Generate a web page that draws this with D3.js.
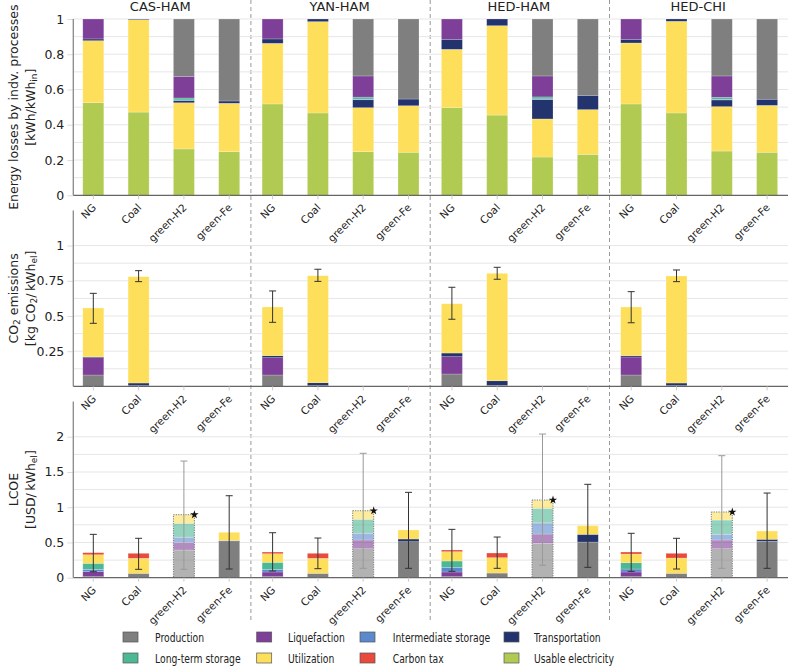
<!DOCTYPE html>
<html>
<head>
<meta charset="utf-8">
<script src="https://d3js.org/d3.v7.min.js"></script>
<style>
  body { margin: 0; background: #fff; }
  text { font-family: "DejaVu Sans", sans-serif; fill: #222; }
</style>
</head>
<body>
<script>
// categories
const regions = ["CAS-HAM", "YAN-HAM", "HED-HAM", "HED-CHI"];
const techs = ["NG", "Coal", "green-H2", "green-Fe"];

// energy losses [kWh/kWh_in], 16 bars: region-major, tech-minor
const energyUsable = [.525, .472, .263, .247, .518, .467, .247, .244, .497, .455, .217, .232, .518, .467, .251, .244];
const energyUtil   = [.352, .524, .262, .275, .344, .518, .250, .264, .331, .507, .216, .254, .346, .520, .252, .266];
const energyTransp = [.010, .004, .012, .013, .025, .015, .045, .038, .057, .038, .110, .081, .021, .013, .038, .035];
const energyInter  = [0, 0, .004, 0, 0, 0, .004, 0, 0, 0, .004, 0, 0, 0, .004, 0];
const energyLong   = [0, 0, .011, 0, 0, 0, .011, 0, 0, 0, .011, 0, 0, 0, .011, 0];
const energyLiq    = [.113, 0, .123, 0, .113, 0, .120, 0, .115, 0, .119, 0, .115, 0, .121, 0];
const energyProd   = [0, 0, .325, .465, 0, 0, .323, .454, 0, 0, .323, .433, 0, 0, .323, .455];

// CO2 emissions [kg CO2/kWh_el]
const co2Prod   = [.081, .006, 0, 0, .081, .006, 0, 0, .088, .008, 0, 0, .081, .006, 0, 0];
const co2Liq    = [.123, 0, 0, 0, .123, 0, 0, 0, .123, 0, 0, 0, .128, 0, 0, 0];
const co2Transp = [.006, .018, 0, 0, .014, .020, 0, 0, .026, .032, 0, 0, .009, .018, 0, 0];
const co2Util   = [.347, .755, 0, 0, .346, .760, 0, 0, .350, .763, 0, 0, .346, .760, 0, 0];
const co2Low    = [.448, .744, null, null, .455, .746, null, null, .477, .761, null, null, .452, .744, null, null];
const co2High   = [.661, .822, null, null, .678, .832, null, null, .704, .846, null, null, .673, .827, null, null];

// LCOE [USD/kWh_el]
const lcoeProd   = [.015, .062, .393, .511, .015, .062, .411, .511, .015, .066, .488, .506, .015, .062, .411, .516];
const lcoeLiq    = [.070, 0, .109, 0, .066, 0, .124, 0, .066, 0, .132, 0, .066, 0, .124, 0];
const lcoeInter  = [.034, 0, .071, 0, .038, 0, .094, 0, .066, 0, .151, 0, .042, 0, .080, 0];
const lcoeTransp = [0, 0, .003, .014, 0, 0, .003, .038, 0, 0, .009, .109, 0, 0, .003, .029];
const lcoeLong   = [.085, 0, .195, 0, .099, 0, .196, 0, .090, 0, .204, 0, .090, 0, .200, 0];
const lcoeUtil   = [.122, .213, .123, .119, .122, .213, .122, .128, .132, .218, .118, .123, .123, .217, .114, .117];
const lcoeTax    = [.029, .071, 0, 0, .024, .071, 0, 0, .024, .066, 0, 0, .028, .067, 0, 0];
const lcoeLow    = [.085, .119, .119, .123, .095, .128, .133, .133, .090, .133, .176, .147, .090, .123, .133, .133];
const lcoeHigh   = [.615, .559, 1.655, 1.163, .638, .563, 1.765, 1.211, .686, .577, 2.038, 1.325, .630, .559, 1.731, 1.201];

const colors = {
  "Production": "#7f7f7f",
  "Liquefaction": "#7e3f98",
  "Intermediate storage": "#5b89cb",
  "Transportation": "#23336e",
  "Long-term storage": "#4db895",
  "Utilization": "#fedf5b",
  "Carbon tax": "#e84b3c",
  "Usable electricity": "#b1cb52"
};
const legendOrder = ["Production", "Liquefaction", "Intermediate storage", "Transportation",
                     "Long-term storage", "Utilization", "Carbon tax", "Usable electricity"];

const W = 788, H = 671;
const left = 73.3, right = 788;
const svg = d3.select("body").append("svg").attr("width", W).attr("height", H);

const xGroup = d3.scaleBand().domain(regions).range([left, left + 4 * 179.3]);
const xCat = d3.scalePoint().domain(techs).range([20, 20 + 3 * 45.3]);
const bw = 21;
const bars = [];
regions.forEach(r => techs.forEach(t => bars.push({ region: r, tech: t })));
const cx = d => xGroup(d.region) + xCat(d.tech);

// separators between regions
const sepX = regions.slice(1).map((r, i) =>
  (xGroup(regions[i]) + xCat("green-Fe") + xGroup(r) + xCat("NG")) / 2);
svg.append("g").selectAll("line").data(sepX).join("line")
  .attr("x1", d => d).attr("x2", d => d).attr("y1", 0).attr("y2", 622)
  .attr("stroke", "#999").attr("stroke-width", 1).attr("stroke-dasharray", "4,3");

// region titles
svg.append("g").selectAll("text").data(regions).join("text")
  .attr("x", r => xGroup(r) + (xCat("NG") + xCat("green-Fe")) / 2 - 1)
  .attr("y", 10.7).attr("text-anchor", "middle").attr("font-size", 13).text(r => r);

function drawPanel(cfg) {
  const y = d3.scaleLinear().domain(cfg.domain).range([cfg.y0, cfg.y1]);
  const g = svg.append("g");

  // grid
  g.append("g").selectAll("line").data(cfg.grid).join("line")
    .attr("x1", left).attr("x2", right).attr("y1", d => y(d)).attr("y2", d => y(d))
    .attr("stroke", "#e6e6e6").attr("stroke-width", 1);

  // y axis
  const ya = g.append("g").attr("transform", `translate(${left},0)`)
    .call(d3.axisLeft(y).tickValues(cfg.ticks).tickFormat(d3.format("~g")).tickSize(6).tickPadding(3));
  ya.select(".domain").remove();
  ya.selectAll(".tick line").attr("stroke", "#ddd");
  ya.selectAll(".tick text").attr("font-size", 12.5).attr("font-family", "DejaVu Sans").attr("fill", "#222");

  // stacked bars
  const rows = bars.map((b, i) => {
    const o = { ...b, i };
    cfg.keys.forEach(k => o[k] = cfg.values[k][i]);
    return o;
  });
  const series = d3.stack().keys(cfg.keys)(rows);
  const light = d => cfg.fadeH2 && d.data.tech === "green-H2";
  g.append("g").selectAll("g").data(series).join("g")
    .attr("fill", s => colors[s.key])
    .selectAll("rect").data(s => s.filter(d => d[1] - d[0] > 0)).join("rect")
    .attr("x", d => cx(d.data) - bw / 2).attr("width", bw)
    .attr("y", d => y(d[1])).attr("height", d => y(d[0]) - y(d[1]))
    .attr("fill-opacity", d => light(d) ? 0.6 : 1)
    .attr("stroke", "#fff").attr("stroke-opacity", 0.35).attr("stroke-width", 0.6);

  const totals = rows.map(r => d3.sum(cfg.keys, k => r[k]));

  if (cfg.fadeH2) {
    const h2 = rows.filter(r => r.tech === "green-H2");
    g.append("g").selectAll("rect").data(h2).join("rect")
      .attr("x", d => cx(d) - bw / 2).attr("width", bw)
      .attr("y", d => y(totals[d.i])).attr("height", d => y(0) - y(totals[d.i]))
      .attr("fill", "none").attr("stroke", "#777").attr("stroke-width", 1)
      .attr("stroke-dasharray", "1.2,1.2");
    g.append("g").selectAll("path").data(h2).join("path")
      .attr("d", d3.symbol(d3.symbolStar, 22))
      .attr("transform", d => `translate(${cx(d) + bw / 2},${y(totals[d.i])})`)
      .attr("fill", "#111");
  }

  // error bars
  if (cfg.low) {
    const eb = rows.filter(r => cfg.low[r.i] != null);
    const eg = g.append("g").selectAll("g").data(eb).join("g")
      .attr("stroke", d => cfg.fadeH2 && d.tech === "green-H2" ? "#999" : "#333")
      .attr("stroke-width", 1);
    eg.append("line").attr("x1", cx).attr("x2", cx)
      .attr("y1", d => y(cfg.low[d.i])).attr("y2", d => y(cfg.high[d.i]));
    eg.append("line").attr("x1", d => cx(d) - 3.5).attr("x2", d => cx(d) + 3.5)
      .attr("y1", d => y(cfg.low[d.i])).attr("y2", d => y(cfg.low[d.i]));
    eg.append("line").attr("x1", d => cx(d) - 3.5).attr("x2", d => cx(d) + 3.5)
      .attr("y1", d => y(cfg.high[d.i])).attr("y2", d => y(cfg.high[d.i]));
  }

  // spines
  g.append("line").attr("x1", left).attr("x2", right).attr("y1", y(0)).attr("y2", y(0))
    .attr("stroke", "#666").attr("stroke-width", 1.3);
  g.append("line").attr("x1", left).attr("x2", left).attr("y1", y(0)).attr("y2", y(cfg.domain[1]))
    .attr("stroke", "#888").attr("stroke-width", 1.3);

  // x ticks and rotated labels
  g.append("g").selectAll("line").data(bars).join("line")
    .attr("x1", cx).attr("x2", cx).attr("y1", y(0)).attr("y2", y(0) + 4)
    .attr("stroke", "#ccc");
  g.append("g").selectAll("text").data(bars).join("text")
    .attr("transform", d => `translate(${cx(d) + 3.5},${y(0) + 13}) rotate(-45)`)
    .attr("text-anchor", "end").attr("font-size", 10.5).text(d => d.tech);

  // y label, subscripts as lowered small tspans
  const lab = g.append("g")
    .attr("transform", `translate(0,${(cfg.y0 + cfg.y1) / 2}) rotate(-90)`);
  cfg.label.forEach((parts, li) => {
    const t = lab.append("text").attr("x", 0).attr("y", 17.5 + li * 17)
      .attr("text-anchor", "middle").attr("font-size", 12.5);
    let shifted = false;
    parts.forEach(p => {
      if (typeof p === "string") {
        t.append("tspan").attr("dy", shifted ? -2.5 : 0).text(p);
        shifted = false;
      } else {
        t.append("tspan").attr("font-size", 9).attr("dy", 2.5).text(p.sub);
        shifted = true;
      }
    });
  });
}

drawPanel({
  domain: [0, 1], y0: 195.3, y1: 19,
  ticks: [0, 0.2, 0.4, 0.6, 0.8, 1],
  grid: d3.range(1, 11).map(d => d / 10),
  keys: ["Usable electricity", "Utilization", "Transportation", "Intermediate storage",
         "Long-term storage", "Liquefaction", "Production"],
  values: {
    "Usable electricity": energyUsable, "Utilization": energyUtil, "Transportation": energyTransp,
    "Intermediate storage": energyInter, "Long-term storage": energyLong,
    "Liquefaction": energyLiq, "Production": energyProd
  },
  label: [["Energy losses by indv. processes"], ["[kWh/kWh", { sub: "in" }, "]"]]
});

drawPanel({
  domain: [0, 1.25], y0: 386.4, y1: 210.4,
  ticks: [0.25, 0.5, 0.75, 1],
  grid: d3.range(1, 9).map(d => d * 0.125),
  keys: ["Production", "Liquefaction", "Transportation", "Utilization"],
  values: {
    "Production": co2Prod, "Liquefaction": co2Liq, "Transportation": co2Transp, "Utilization": co2Util
  },
  low: co2Low, high: co2High,
  label: [["CO", { sub: "2" }, " emissions"], ["[kg CO", { sub: "2" }, "/\u2009kWh", { sub: "el" }, "]"]]
});

drawPanel({
  domain: [0, 2.5], y0: 577.7, y1: 401.5,
  ticks: [0, 0.5, 1, 1.5, 2],
  grid: d3.range(1, 9).map(d => d * 0.25),
  keys: ["Production", "Liquefaction", "Intermediate storage", "Transportation",
         "Long-term storage", "Utilization", "Carbon tax"],
  values: {
    "Production": lcoeProd, "Liquefaction": lcoeLiq, "Intermediate storage": lcoeInter,
    "Transportation": lcoeTransp, "Long-term storage": lcoeLong, "Utilization": lcoeUtil,
    "Carbon tax": lcoeTax
  },
  low: lcoeLow, high: lcoeHigh, fadeH2: true,
  label: [["LCOE"], ["[USD/\u2009kWh", { sub: "el" }, "]"]]
});

// legend (narrow lettering: squeeze the measured text)
const swX = [123, 256.7, 360, 504];
const txX = [155, 288, 392.7, 534];
const rowY = [637, 658];
const lg = svg.append("g").selectAll("g").data(legendOrder).join("g")
  .attr("transform", (d, i) => `translate(0,${rowY[Math.floor(i / 4)]})`);
lg.append("rect").attr("x", (d, i) => swX[i % 4]).attr("y", -5).attr("width", 15).attr("height", 10)
  .attr("fill", d => colors[d]).attr("stroke", "#555").attr("stroke-width", 0.7);
lg.append("text").attr("x", (d, i) => txX[i % 4]).attr("y", 4.6)
  .attr("font-size", 13).text(d => d)
  .each(function () {
    const w = this.getComputedTextLength();
    d3.select(this).attr("textLength", w * 0.71).attr("lengthAdjust", "spacingAndGlyphs");
  });
</script>
</body>
</html>
